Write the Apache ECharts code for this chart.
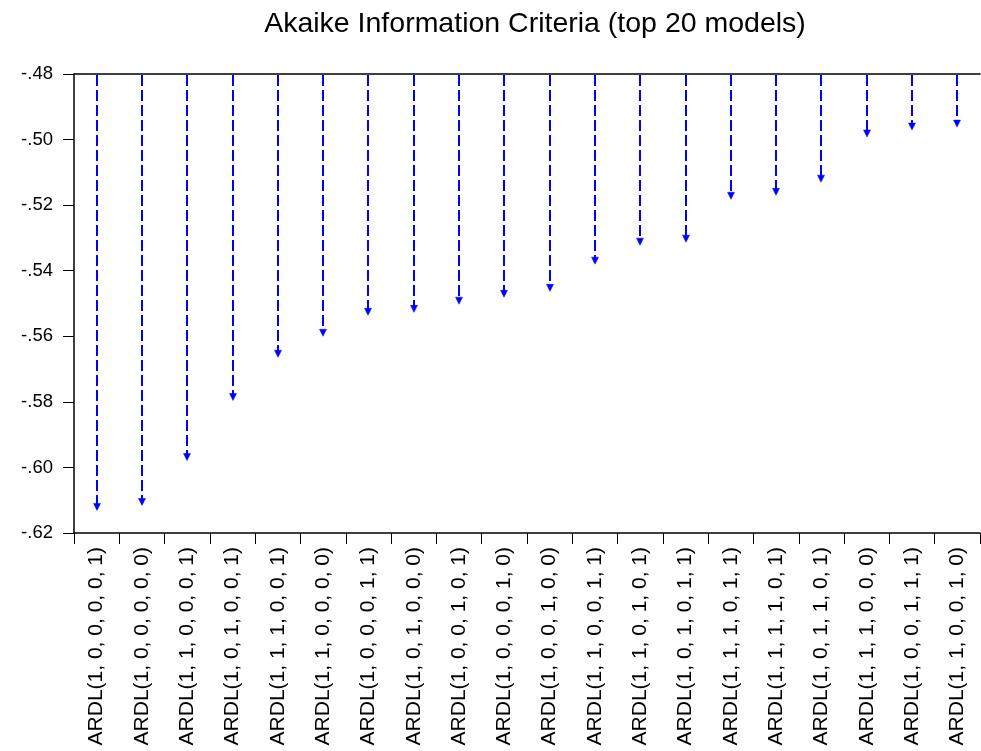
<!DOCTYPE html>
<html>
<head>
<meta charset="utf-8">
<script src="https://cdn.jsdelivr.net/npm/echarts@6/dist/echarts.min.js"></script>
<style>
html,body{margin:0;padding:0;background:#fff;}
#chart{width:981px;height:751px;}
</style>
</head>
<body>
<div id="chart"></div>
<script>
const titleText = 'Akaike Information Criteria (top 20 models)';
const categories = [
  'ARDL(1, 0, 0, 0, 0, 1)', 'ARDL(1, 0, 0, 0, 0, 0)', 'ARDL(1, 1, 0, 0, 0, 1)', 'ARDL(1, 0, 1, 0, 0, 1)',
  'ARDL(1, 1, 1, 0, 0, 1)', 'ARDL(1, 1, 0, 0, 0, 0)', 'ARDL(1, 0, 0, 0, 1, 1)', 'ARDL(1, 0, 1, 0, 0, 0)',
  'ARDL(1, 0, 0, 1, 0, 1)', 'ARDL(1, 0, 0, 0, 1, 0)', 'ARDL(1, 0, 0, 1, 0, 0)', 'ARDL(1, 1, 0, 0, 1, 1)',
  'ARDL(1, 1, 0, 1, 0, 1)', 'ARDL(1, 0, 1, 0, 1, 1)', 'ARDL(1, 1, 1, 0, 1, 1)', 'ARDL(1, 1, 1, 1, 0, 1)',
  'ARDL(1, 0, 1, 1, 0, 1)', 'ARDL(1, 1, 1, 0, 0, 0)', 'ARDL(1, 0, 0, 1, 1, 1)', 'ARDL(1, 1, 0, 0, 1, 0)'
];
const aicValues = [
  -0.6131, -0.6116, -0.5979, -0.5796, -0.5664, -0.5600, -0.5536, -0.5527, -0.5502, -0.5481,
  -0.5463, -0.5380, -0.5322, -0.5313, -0.5182, -0.5170, -0.5130, -0.4992, -0.4971, -0.4962
];
const yMin = -0.62;
const yMax = -0.48;
const yInterval = 0.02;

function fmtY(v) {
  let s = v.toFixed(2);
  return s.replace('-0.', '-.').replace(/^0\./, '.');
}

const chart = echarts.init(document.getElementById('chart'), null, {renderer: 'canvas'});
const FONT = '"Liberation Sans", Arial, sans-serif';

const option = {
  backgroundColor: '#ffffff',
  animation: false,
  title: {
    text: titleText,
    left: 530,
    top: 5,
    textAlign: 'center',
    textStyle: {fontFamily: FONT, fontSize: 28.5, fontWeight: 'normal', color: '#000'}
  },
  grid: {left: 74, right: 1, top: 74, bottom: 218, containLabel: false},
  xAxis: [
    {
      type: 'category',
      data: categories,
      position: 'bottom',
      boundaryGap: true,
      axisLine: {show: true, lineStyle: {color: '#000', width: 1.5}},
      axisTick: {show: true, inside: false, length: 11, alignWithLabel: false, lineStyle: {color: '#000', width: 1}},
      axisLabel: {
        show: true, interval: 0, rotate: 90, margin: 14,
        fontFamily: FONT, fontSize: 21, color: '#000'
      },
      splitLine: {show: false}
    },
    {
      type: 'category',
      data: categories,
      position: 'top',
      axisLine: {show: true, lineStyle: {color: '#000', width: 1.5}},
      axisTick: {show: false},
      axisLabel: {show: false},
      splitLine: {show: false}
    }
  ],
  yAxis: {
    type: 'value',
    min: yMin,
    max: yMax,
    interval: yInterval,
    axisLine: {show: true, lineStyle: {color: '#000', width: 1.5}},
    axisTick: {show: true, inside: false, length: 11, lineStyle: {color: '#000', width: 1}},
    axisLabel: {
      margin: 21, fontFamily: FONT, fontSize: 18.5, color: '#000',
      formatter: fmtY
    },
    splitLine: {show: false}
  },
  series: [{
    type: 'custom',
    xAxisIndex: 0,
    yAxisIndex: 0,
    data: aicValues.map((v, i) => [i, v]),
    encode: {x: 0, y: 1},
    renderItem: function (params, api) {
      const i = api.value(0);
      const v = api.value(1);
      const top = api.coord([i, yMax]);
      const tip = api.coord([i, v]);
      const x = Math.round(tip[0]);
      const headH = 7, headW = 3.5;
      return {
        type: 'group',
        children: [
          {
            type: 'line',
            shape: {x1: x, y1: top[1] + 1, x2: x, y2: tip[1] - headH + 1},
            style: {stroke: '#0000ff', lineWidth: 2, lineDash: [11, 4]}
          },
          {
            type: 'polygon',
            shape: {points: [[x - headW, tip[1] - headH], [x + headW, tip[1] - headH], [x, tip[1]]]},
            style: {fill: '#0000ff', stroke: '#0000ff', lineWidth: 0.5}
          }
        ]
      };
    }
  }]
};
chart.setOption(option);
</script>
</body>
</html>
